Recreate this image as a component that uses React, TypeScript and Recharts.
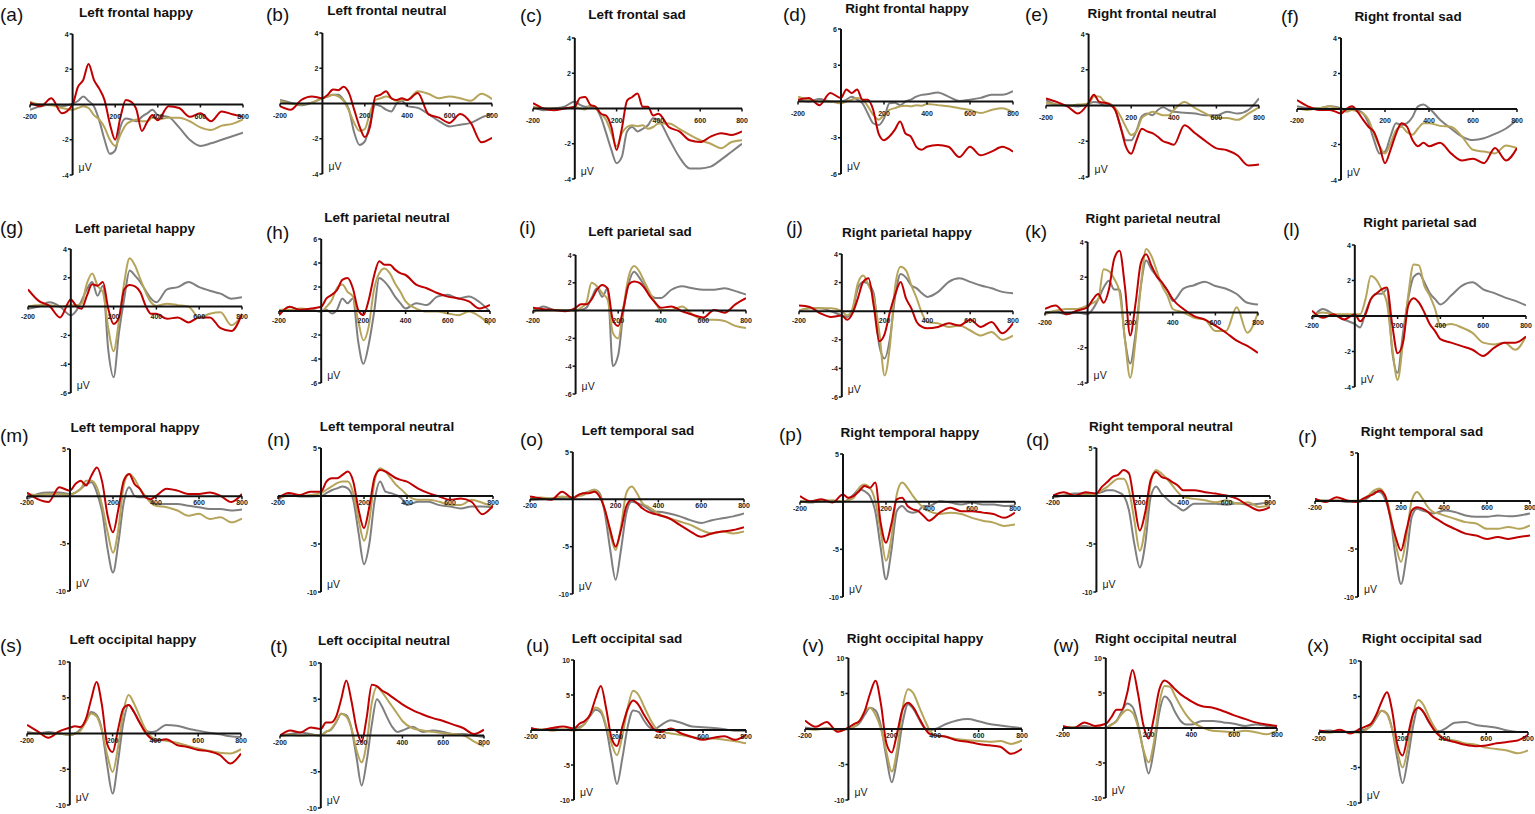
import React from 'react';
import { LineChart, Line, XAxis, YAxis, ReferenceLine, ReferenceDot } from 'recharts';

// time points (ms)
const TIMES = [-200,-150,-100,-50,0,25,50,75,100,125,150,175,200,225,250,275,300,325,350,375,400,450,500,550,600,650,700,750,800];
const X_TICKS = [-200, 200, 400, 600, 800];

// ---------- frontal ----------
const aRed = [0.1,-0.1,0.35,-0.5,0,1.0,1.4,2.3,1.4,0.9,0.25,-1.1,-2.0,-0.7,0.25,0.15,-0.3,-1.5,-1.0,-0.6,-0.9,-0.1,-0.2,-0.7,-0.5,-0.95,-0.4,-0.55,-0.7];
const aGray = [-0.3,-0.1,0,-0.1,0.05,0.2,0.45,0.2,-0.1,-0.9,-2.0,-2.8,-2.6,-1.25,-0.8,-0.85,-0.95,-0.7,-0.5,-0.3,-0.6,-0.7,-1.3,-2.0,-2.35,-2.2,-2.0,-1.8,-1.6];
const aOlive = [0.15,0,-0.05,-0.2,-0.3,-0.2,-0.1,-0.2,-0.6,-0.85,-1.3,-2.0,-2.35,-1.7,-1.15,-0.95,-0.85,-0.95,-0.95,-0.75,-0.85,-0.75,-0.75,-0.95,-1.3,-1.45,-1.2,-1.1,-0.85];

const bRed = [-0.15,-0.35,0.2,0.4,0.3,0.5,0.8,0.75,0.95,0.6,-0.35,-1.3,-1.9,-1.3,0.4,0.5,0.7,0.3,0.2,0.3,0.2,0.6,-0.6,-0.8,-1.1,-0.6,-1.1,-2.2,-1.95];
const bGray = [0.2,0.05,-0.1,0.05,0.3,0.4,0.5,0.5,0.2,-0.35,-1.65,-2.35,-2.15,-1.1,-0.05,-0.15,-0.35,-0.45,0,0.15,-0.15,-0.25,-0.6,-1.0,-1.3,-1.2,-1.1,-0.8,-0.6];
const bOlive = [0.15,0,-0.05,0.05,0.3,0.4,0.5,0.4,0.15,-0.4,-1.1,-1.55,-1.45,-0.5,0.2,0.3,0.4,0.3,0.15,0.2,0.2,0.7,0.55,0.3,0.4,0.3,0.15,0.55,0.25];

const cRed = [0.3,0,-0.1,0,0.1,0.6,0.65,0.2,0.1,-0.3,-0.4,-1.05,-2.35,-1.15,0.45,0.65,0.85,0.1,0.1,-0.4,-0.3,-1.05,-1.3,-1.8,-1.9,-1.6,-1.4,-1.5,-1.3];
const cGray = [0.1,-0.1,0,0.1,0.4,0.2,0.1,0.1,0,-0.5,-1.4,-2.35,-3.1,-2.75,-1.3,-1.05,-1.3,-1.15,-0.95,-0.55,-0.65,-1.7,-2.75,-3.4,-3.4,-3.3,-2.9,-2.45,-2.0];
const cOlive = [0.1,0,0,0,0.1,0,-0.05,0.2,0,-0.3,-0.65,-1.4,-2.15,-1.4,-1.05,-0.95,-1.0,-0.95,-1.15,-1.05,-0.85,-0.85,-1.15,-1.5,-1.8,-2.0,-2.25,-1.9,-1.8];

const dRed = [0.15,0.3,-0.3,0.7,0.3,1.0,0.7,1.0,0.15,0.15,-0.7,-2.65,-3.2,-2.9,-2.35,-1.65,-2.65,-2.9,-3.75,-4.0,-3.75,-3.6,-3.75,-4.6,-3.75,-4.45,-4.15,-3.75,-4.15];
const dGray = [0.15,0,0.2,0,0,0.15,0.4,0.15,-0.15,-1.0,-1.8,-1.95,-1.4,-0.15,-0.1,-0.3,0,0.15,0.4,0.55,0.6,0.75,0.4,0.05,0.15,0.3,0.55,0.55,0.85];
const dOlive = [0.4,0.15,0,0,-0.15,0,0.15,0.3,0.15,-0.4,-1.1,-1.5,-1.1,-0.7,-0.55,-0.4,-0.35,-0.4,-0.3,-0.35,-0.2,-0.3,-0.4,-0.55,-0.7,-0.95,-0.7,-0.55,-0.9];

const eRed = [0.4,0.2,-0.05,-0.45,0.15,0.6,0.2,0.15,0.05,-0.25,-1.2,-2.3,-2.7,-1.95,-1.3,-1.45,-1.55,-1.75,-2.0,-2.1,-2.2,-1.1,-1.55,-2.0,-2.4,-2.5,-2.8,-3.35,-3.3];
const eGray = [0.3,0.05,0,-0.05,0.1,0.2,0.15,0,0,-0.25,-1.2,-1.95,-1.95,-1.4,-0.6,-0.45,-0.55,-0.25,-0.1,-0.25,-0.35,-0.4,-0.45,-0.55,-0.55,-0.35,-0.45,-0.25,0.4];
const eOlive = [0.15,0.05,0,0.05,0.1,0.5,0.5,0.2,0.1,-0.15,-0.6,-1.2,-1.65,-1.45,-0.7,-0.5,-0.35,-0.45,-0.55,-0.55,-0.25,0.2,-0.15,-0.45,-0.7,-0.7,-0.8,-0.45,-0.1];

const fRed = [0.5,0.15,-0.05,-0.05,-0.25,0,0.15,-0.15,-0.6,-1.0,-1.3,-2.1,-3.05,-2.3,-1.4,-0.8,-1.0,-1.75,-2.1,-1.9,-2.1,-1.9,-2.5,-2.9,-2.8,-3.05,-2.2,-2.9,-2.2];
const fGray = [0.15,0.05,0.05,0.15,0.05,-0.05,0.05,-0.05,-0.25,-0.8,-1.75,-2.5,-2.4,-1.55,-0.8,-0.9,-0.8,-0.45,0.15,0.25,0.05,-0.6,-1.1,-1.55,-1.75,-1.65,-1.4,-1.1,-0.6];
const fOlive = [0.05,-0.05,0.05,0.15,-0.05,-0.15,-0.05,-0.15,-0.25,-0.6,-1.4,-2.1,-2.5,-1.95,-1.2,-1.0,-1.3,-1.45,-1.1,-0.8,-0.8,-0.95,-1.0,-1.55,-2.3,-2.4,-2.5,-2.05,-2.2];

// ---------- parietal ----------
const gRed = [1.2,0.4,0.05,-0.75,0.5,0.05,-0.15,0.75,1.55,1.45,1.7,-0.15,-1.2,-0.75,1.2,1.5,1.4,1.0,0.05,-0.5,-0.5,-0.85,-0.75,-1.1,-0.75,-0.75,-1.5,-1.7,-0.5];
const gGray = [-0.15,0,0.3,0,-0.6,-0.3,0.4,1.2,1.7,0.75,1.45,-3.0,-4.9,-1.8,0.6,2.5,2.15,1.7,1.1,0.55,0.3,1.2,1.35,1.7,1.35,1.1,0.9,0.55,0.65];
const gOlive = [0,0.1,0.1,0,0.1,0.1,0.2,1.6,2.3,1.45,1.0,-1.5,-3.1,-1.0,1.7,3.35,2.85,1.9,1.0,0.3,0.05,0.2,0.1,0,-0.75,-0.5,-0.4,-1.3,-0.6];

const hRed = [-0.35,0.35,0.1,0.2,0.35,1.05,1.35,1.75,2.6,2.75,1.9,0.1,-0.35,0.9,2.9,4.15,3.85,3.85,3.45,3.15,3.0,2.2,1.9,1.5,1.2,1.05,0.8,0.2,0.5];
const hGray = [-0.35,0.35,0.1,0.1,-0.05,0.1,-0.2,0.1,1.05,0.65,1.05,-2.5,-4.4,-2.8,-0.2,2.75,2.45,1.9,1.2,0.65,0.2,0.65,0.5,1.2,1.35,1.05,1.2,0.75,-0.05];
const hOlive = [0.1,0.1,0.2,0.1,-0.05,0.35,0.9,1.9,2.2,1.6,1.2,-0.8,-2.45,-1.3,1.75,3.15,3.55,3.15,2.3,1.6,0.8,0.2,-0.05,-0.05,-0.2,-0.35,-0.05,-0.45,-1.15];

const iRed = [0.2,0.1,0.05,-0.05,0.2,0.45,0.45,0.8,1.5,1.85,1.6,-0.7,-1.1,0.2,1.9,2.1,2.0,1.6,1.0,0.55,0.2,0.3,-0.05,-0.3,-0.5,0.05,-0.15,0.45,0.9];
const iGray = [-0.15,0.3,0.05,0.05,0,0.05,0.2,0.9,1.6,1.0,1.6,-4.0,-3.2,0,2.0,2.8,2.35,1.75,1.15,0.9,0.9,1.5,1.75,1.6,1.5,1.5,1.6,1.4,1.15];
const iOlive = [0,0,0,0,0,0.2,0.55,2.0,1.75,1.25,0.8,-1.6,-2.0,0.3,2.5,3.2,2.8,2.0,1.25,0.55,0.05,0.05,0.3,-0.3,-0.65,-0.65,-0.75,-1.1,-1.25];

const jRed = [0.4,0.3,-0.15,-0.4,-0.3,-0.6,-0.15,0.9,2.05,2.3,0.3,-2.1,-1.6,-0.05,1.2,2.05,0.9,0.2,-0.75,-1.1,-1.2,-1.1,-0.85,-1.0,-0.6,-1.1,-0.75,-1.55,-0.85];
const jGray = [0,0.2,0.2,0,-0.3,-0.4,0.05,1.6,2.05,1.9,1.2,-2.4,-3.3,-1.9,1.1,2.6,2.35,1.8,1.6,1.25,1.0,1.35,2.05,2.3,2.05,1.8,1.6,1.35,1.25];
const jOlive = [0.05,0.2,0.2,0.2,0,-0.3,0.2,1.95,2.5,1.8,0.9,-1.45,-4.5,-2.4,1.8,3.1,2.85,1.8,0.9,-0.15,-0.75,-0.85,-1.1,-1.0,-1.35,-1.7,-1.45,-2.0,-1.7];

const kRed = [0.2,0.4,-0.1,0.1,0.3,0.75,1.05,0.55,1.3,3.05,3.5,1.5,-1.3,0.5,2.8,3.3,2.65,2.05,1.7,1.25,0.75,0.2,-0.2,-0.4,-0.75,-1.15,-1.6,-1.9,-2.3];
const kGray = [0,0.05,-0.1,0,-0.1,0.2,0.75,1.4,1.8,1.3,1.3,-1.5,-2.9,-1.2,1.5,2.95,2.45,2.05,1.6,1.25,0.65,1.35,1.55,1.75,1.5,1.35,1.05,0.55,0.45];
const kOlive = [-0.1,0.1,0.2,0.2,0.4,0.55,0.75,2.45,2.35,1.9,1.15,-1.5,-3.7,-1.6,1.5,3.6,3.2,2.35,1.5,0.95,0.2,0,-0.3,-0.4,-1.05,-1.05,0.3,-1.15,0];

const lRed = [0.3,-0.1,0.1,-0.2,0.1,-0.3,0.1,0.95,1.25,1.5,1.6,-0.5,-2.1,-1.5,0.6,1.0,0.75,0.2,-0.45,-0.85,-1.3,-1.5,-1.7,-1.9,-2.25,-1.8,-1.5,-1.5,-1.15];
const lGray = [-0.2,0.4,0.1,-0.2,-0.45,-0.65,0.2,0.95,1.25,1.25,1.5,-2.0,-3.2,-1.0,1.0,2.2,2.4,1.9,1.3,0.95,0.65,1.15,1.7,1.9,1.5,1.3,1.05,0.85,0.6];
const lOlive = [0,0.2,0.1,0.1,0.1,0.1,0.95,2.25,2.05,1.5,0.75,-1.8,-3.6,-1.5,1.2,2.9,2.85,1.7,1.15,0.4,-0.55,-0.45,-0.65,-0.95,-1.5,-1.6,-1.5,-1.9,-1.15];

// ---------- temporal ----------
const mRed = [0.4,-0.3,-0.6,0.95,0.6,1.3,1.65,1.15,2.2,3.05,1.5,-2.05,-3.8,-1.35,1.65,2.35,1.3,0.8,-0.1,-0.3,0.05,0.8,0.6,0.25,0.25,0.4,0.05,-0.6,0.25];
const mGray = [-0.3,0.25,0.4,0.4,0.25,0.4,0.8,1.3,1.5,0.4,-1.7,-5.6,-8.05,-4.9,-0.65,0.95,0.05,-0.1,-0.1,-0.45,-0.8,-0.8,-0.8,-1.0,-1.15,-1.35,-1.35,-1.5,-1.4];
const mOlive = [0.25,0.15,0.25,0.25,0.15,0.4,0.8,1.65,1.65,0.95,-1.0,-3.8,-5.95,-3.45,1.15,2.35,1.85,0.8,0.05,-0.65,-1.0,-1.15,-1.5,-2.05,-1.85,-2.4,-2.2,-2.75,-2.35];

const nRed = [-0.25,0.3,0.1,0.45,0.45,1.5,1.85,1.85,2.2,2.55,1.5,-1.45,-3.35,-1.1,2.0,2.7,2.55,2.2,1.85,1.65,1.5,0.8,0.3,-0.05,-0.4,-0.25,-0.6,-1.9,-1.0];
const nGray = [-0.4,0.1,-0.05,-0.05,0,0.3,0.6,0.8,1.0,0.8,-0.4,-3.9,-7.1,-4.95,-0.4,1.5,0.45,0.3,0.1,-0.25,-0.95,-0.6,-0.6,-0.95,-1.1,-1.3,-1.1,-1.1,-1.2];
const nOlive = [-0.15,0,0,0.1,0.3,0.65,1.0,1.35,1.5,1.5,0.3,-2.5,-4.65,-2.5,1.65,2.9,2.55,1.85,1.15,0.65,0.1,-0.4,-0.4,-0.6,-0.95,-0.95,-0.4,-0.7,-1.1];

const oRed = [0.3,0.1,-0.05,0.8,0.1,0.45,0.65,0.65,0.8,0.3,-1.1,-3.25,-5.0,-3.25,-0.75,-0.05,-0.4,-0.95,-1.3,-1.5,-1.65,-2.0,-2.7,-3.4,-3.95,-3.6,-3.4,-3.25,-2.95];
const oGray = [-0.05,0,0.1,0.2,0.2,0.45,0.65,0.8,1.0,0.65,-1.5,-5.35,-8.5,-5.35,-1.5,-0.25,-0.4,-0.6,-0.95,-1.3,-1.3,-1.5,-1.8,-2.2,-2.5,-2.2,-2.0,-1.8,-1.5];
const oOlive = [0.1,0.2,0.1,0.3,0.2,0.35,0.45,0.8,1.0,0.45,-1.1,-3.6,-5.35,-2.9,0.65,1.35,0.65,-0.4,-0.75,-1.1,-1.5,-2.0,-2.35,-2.7,-3.25,-3.6,-3.4,-3.6,-3.4];

const pRed = [0.6,0.05,0.25,-0.1,0.75,0.4,0.6,1.1,1.65,1.45,2.0,-2.2,-4.3,-2.35,0.25,0.4,-0.45,-0.8,-1.0,-1.5,-2.0,-1.15,-0.65,-1.0,-1.0,-1.15,-1.3,-1.7,-1.15];
const pGray = [0.05,-0.1,0.15,0.05,0,0.25,0.75,1.3,1.1,0.6,-1.0,-4.8,-8.15,-5.15,-1.0,-0.45,-1.0,-1.15,-1.0,-0.45,-0.45,0.05,-0.1,-0.3,-0.1,-0.3,-0.3,-0.45,-0.4];
const pOlive = [0.05,0,0.05,0.15,0,0.15,0.4,1.45,1.8,1.45,0.05,-3.1,-6.2,-3.8,0.75,2.0,1.45,0.6,-0.1,-0.65,-1.0,-1.3,-1.15,-1.3,-1.7,-2.0,-2.2,-2.55,-2.4];

const qRed = [0.05,0.4,0.05,0.4,0.25,0.95,1.45,2.0,2.2,2.7,2.35,-0.8,-3.6,-1.7,1.65,2.5,2.0,1.8,1.45,1.1,0.6,0.6,0.4,0.25,0.05,-0.3,-1.0,-1.5,-1.15];
const qGray = [-0.15,0.05,0.25,0.25,0.25,0.4,0.6,0.6,0.4,0.05,-1.5,-5.0,-7.45,-5.0,-0.1,1.0,0.25,-0.3,-0.8,-1.15,-1.5,-0.8,-0.8,-0.8,-0.9,-0.75,-0.9,-0.8,-0.65];
const qOlive = [-0.05,0.05,0.05,0.15,0.25,0.6,0.95,1.45,1.8,1.8,0.6,-2.55,-5.7,-3.25,1.3,2.7,2.35,1.8,1.1,0.4,-0.1,-0.3,-0.45,-0.65,-0.45,-0.8,-0.65,-1.15,-1.0];

const rRed = [0.25,-0.1,0.4,0.05,-0.1,0.25,0.5,0.75,1.1,0.6,-1.65,-3.75,-5.15,-3.05,-1.0,-0.65,-0.8,-1.15,-1.65,-2.0,-2.35,-2.9,-3.4,-3.6,-3.95,-3.75,-3.95,-3.75,-3.6];
const rGray = [0.05,0.05,0.05,-0.1,-0.1,0.05,0.4,0.95,0.95,0.25,-1.65,-5.85,-8.65,-5.85,-1.65,-0.8,-1.0,-1.15,-1.3,-1.15,-1.0,-1.15,-1.5,-1.65,-1.65,-1.5,-1.6,-1.5,-1.3];
const rOlive = [0.15,0,0.05,0,0.05,0.25,0.6,1.1,1.3,0.6,-1.3,-4.45,-6.35,-3.75,0.05,0.95,0.25,-0.65,-1.15,-1.3,-1.5,-1.85,-2.2,-2.35,-2.9,-2.9,-2.7,-2.9,-2.55];

// ---------- occipital ----------
const sRed = [1.2,0.3,-0.6,0.3,0.8,1.0,0.9,2.0,4.8,7.2,4.0,-1.5,-2.6,0.5,3.5,4.0,3.0,1.6,0.3,-0.6,-1.0,-0.8,-1.6,-1.9,-2.3,-2.5,-3.0,-4.2,-2.8];
const sGray = [0.2,0,0.2,0,-0.2,0,0.6,1.8,3.0,2.6,0.5,-4.5,-8.4,-4.0,1.5,4.0,3.0,1.6,0.6,0.2,0.3,1.2,1.1,0.7,0.4,0.1,-0.1,-0.4,-0.5];
const sOlive = [0,0,-0.1,0,-0.2,0,0.4,1.6,2.8,2.4,0.4,-3.0,-5.4,-2.0,3.0,5.4,4.2,2.5,0.8,-0.3,-0.8,-1.0,-1.3,-1.7,-2.1,-2.4,-2.7,-2.8,-2.2];

const tRed = [0,0.7,0.4,1.1,0.9,1.8,1.8,2.6,5.0,7.6,4.8,1.0,-0.9,2.5,7.0,6.8,6.2,5.8,5.3,4.8,4.3,3.5,2.9,2.4,2.0,1.5,1.0,0.2,0.8];
const tGray = [0,0.2,0.4,0.2,0,0.5,0.8,1.8,3.0,2.8,1.0,-3.0,-6.9,-3.5,1.5,5.0,4.0,2.5,1.2,0.5,0.7,1.2,0.5,0.7,0.5,0.2,0.2,0,-0.2];
const tOlive = [-0.1,0.1,0,0.1,0,0.5,0.9,1.9,3.0,2.6,1.0,-2.0,-3.7,-1.0,4.5,6.7,6.0,5.0,4.0,3.0,2.0,1.0,0.7,0.5,0.3,0.2,0,-0.8,-1.5];

const uRed = [0.3,0,0.3,0.5,0.2,0.9,1.3,2.2,4.5,6.3,3.0,-1.2,-2.3,0.5,3.0,4.2,3.6,2.2,1.0,0,-0.3,0.2,-0.5,-1.0,-1.4,-1.1,-0.9,-1.4,-0.7];
const uGray = [0.2,0,0.2,0,0.2,0.4,0.9,2.0,2.9,2.5,0.2,-4.0,-7.7,-4.0,0.5,2.8,2.6,1.4,0.4,0.1,0.6,1.4,1.0,0.5,0.4,0.3,0.1,-0.1,-0.1];
const uOlive = [0,0.1,-0.1,0.1,-0.1,0.2,0.9,2.2,3.2,2.8,0.6,-2.0,-3.6,-0.8,3.2,5.6,5.0,3.4,1.8,0.5,-0.2,-0.5,-0.7,-1.0,-1.2,-1.2,-1.4,-1.6,-1.9];

const vRed = [1.2,0.3,1.0,-0.4,0.2,0.7,1.1,2.5,5.0,6.8,3.5,-2.0,-3.3,-0.5,2.8,3.7,3.0,1.6,0.2,-0.7,-0.9,-1.1,-1.6,-1.8,-2.1,-2.3,-2.5,-3.5,-2.8];
const vGray = [0.2,0,0.1,-0.1,0,0.3,0.8,2.0,3.0,2.6,0.4,-4.0,-7.5,-4.0,0.9,3.5,2.8,1.4,0.2,-0.2,0,0.7,1.2,1.4,1.1,0.7,0.5,0.3,0.1];
const vOlive = [0,-0.1,0.1,-0.1,0,0.3,1.0,2.5,3.0,2.0,0,-3.2,-6.0,-2.8,3.0,5.6,5.0,3.2,1.4,-0.2,-0.9,-1.1,-1.4,-1.6,-1.7,-1.8,-1.7,-2.1,-1.6];

const wRed = [0.3,0,0.8,0.3,0.6,1.5,2.6,2.6,5.0,8.3,5.0,0.5,-1.5,1.5,5.5,6.8,6.3,5.5,4.8,4.3,3.8,3.1,2.9,2.4,1.8,1.3,0.8,0.5,0.3];
const wGray = [0,0.1,0.3,0,0,0.5,1.0,2.4,3.5,3.0,0.6,-3.2,-6.5,-3.0,2.2,4.5,3.8,2.2,1.0,0.5,0.5,1.0,1.0,0.8,0.6,0.3,0.5,0.3,0.1];
const wOlive = [0,0.1,0,0.1,0,0.4,1.0,2.0,2.6,2.2,0.2,-3.0,-4.9,-2.0,3.5,6.0,5.9,4.5,3.1,1.9,1.0,0.1,-0.4,-0.5,-0.6,-0.4,-0.6,-0.9,-0.4];

const xRed = [0.2,0,0.3,-0.2,0.5,0.8,1.2,2.5,4.3,5.6,3.0,-1.8,-3.3,-0.5,2.5,3.4,2.8,1.5,0.3,-0.5,-1.0,-1.4,-1.8,-2.0,-1.9,-1.6,-1.4,-1.2,-0.4];
const xGray = [0,0.2,0,0,0.2,0.4,0.9,2.0,3.0,2.6,0.4,-3.8,-7.2,-3.8,0.8,3.5,2.8,1.4,0.4,0.1,0.4,1.3,1.4,1.0,0.8,0.6,0.2,0,0];
const xOlive = [0,-0.1,0.1,0,-0.1,0.3,1.0,2.2,3.0,2.5,0.4,-2.8,-5.0,-2.2,2.5,4.5,3.8,2.2,0.8,-0.3,-1.0,-1.2,-1.6,-1.8,-2.2,-2.4,-2.6,-3.0,-2.6];

const TICKS_F = [-4, -2, 2, 4];
const TICKS_F6 = [-6, -3, 3, 6];
const TICKS_P = [-6, -4, -2, 2, 4];
const TICKS_P6 = [-6, -4, -2, 2, 4, 6];
const TICKS_T = [-10, -5, 5];
const TICKS_O = [-10, -5, 5, 10];

const RED = '#c00000';
const GRAY = '#7f7f7f';
const OLIVE = '#b5a45a';

type Panel = {
  id: string; title: string; red: number[]; gray: number[]; olive: number[];
  x0: number; x1: number; yTop: number; yBot: number; yMin: number; yMax: number; yTicks: number[];
  tx: number; ty: number; lx: number; ly: number; xdy: number;
};

const PANELS: Panel[] = [
  { id: 'a', title: 'Left frontal happy', red: aRed, gray: aGray, olive: aOlive, x0: 30, x1: 243, yTop: 34, yBot: 175, yMin: -4, yMax: 4, yTicks: TICKS_F, tx: 136, ty: 13, lx: 0, ly: 15, xdy: 14 },
  { id: 'b', title: 'Left frontal neutral', red: bRed, gray: bGray, olive: bOlive, x0: 280, x1: 492, yTop: 33, yBot: 174, yMin: -4, yMax: 4, yTicks: TICKS_F, tx: 387, ty: 11, lx: 266, ly: 15, xdy: 14 },
  { id: 'c', title: 'Left frontal sad', red: cRed, gray: cGray, olive: cOlive, x0: 533, x1: 742, yTop: 38, yBot: 179, yMin: -4, yMax: 4, yTicks: TICKS_F, tx: 637, ty: 15, lx: 520, ly: 16, xdy: 14 },
  { id: 'd', title: 'Right frontal happy', red: dRed, gray: dGray, olive: dOlive, x0: 798, x1: 1013, yTop: 29, yBot: 174, yMin: -6, yMax: 6, yTicks: TICKS_F6, tx: 907, ty: 9, lx: 783, ly: 15, xdy: 14 },
  { id: 'e', title: 'Right frontal neutral', red: eRed, gray: eGray, olive: eOlive, x0: 1046, x1: 1259, yTop: 34, yBot: 177, yMin: -4, yMax: 4, yTicks: TICKS_F, tx: 1152, ty: 14, lx: 1025, ly: 15, xdy: 14 },
  { id: 'f', title: 'Right frontal sad', red: fRed, gray: fGray, olive: fOlive, x0: 1297, x1: 1517, yTop: 38, yBot: 180, yMin: -4, yMax: 4, yTicks: TICKS_F, tx: 1408, ty: 17, lx: 1281, ly: 17, xdy: 14 },

  { id: 'g', title: 'Left parietal happy', red: gRed, gray: gGray, olive: gOlive, x0: 28, x1: 242, yTop: 249, yBot: 393, yMin: -6, yMax: 4, yTicks: TICKS_P, tx: 135, ty: 229, lx: 0, ly: 228, xdy: 12 },
  { id: 'h', title: 'Left parietal neutral', red: hRed, gray: hGray, olive: hOlive, x0: 279, x1: 490, yTop: 239, yBot: 383, yMin: -6, yMax: 6, yTicks: TICKS_P6, tx: 387, ty: 218, lx: 266, ly: 233, xdy: 12 },
  { id: 'i', title: 'Left parietal sad', red: iRed, gray: iGray, olive: iOlive, x0: 533, x1: 746, yTop: 255, yBot: 394, yMin: -6, yMax: 4, yTicks: TICKS_P, tx: 640, ty: 232, lx: 519, ly: 228, xdy: 12 },
  { id: 'j', title: 'Right parietal happy', red: jRed, gray: jGray, olive: jOlive, x0: 799, x1: 1013, yTop: 254, yBot: 397, yMin: -6, yMax: 4, yTicks: TICKS_P, tx: 907, ty: 233, lx: 786, ly: 228, xdy: 12 },
  { id: 'k', title: 'Right parietal neutral', red: kRed, gray: kGray, olive: kOlive, x0: 1045, x1: 1258, yTop: 242, yBot: 383, yMin: -4, yMax: 4, yTicks: TICKS_F, tx: 1153, ty: 219, lx: 1025, ly: 232, xdy: 12 },
  { id: 'l', title: 'Right parietal sad', red: lRed, gray: lGray, olive: lOlive, x0: 1312, x1: 1526, yTop: 245, yBot: 387, yMin: -4, yMax: 4, yTicks: TICKS_F, tx: 1420, ty: 223, lx: 1283, ly: 230, xdy: 12 },

  { id: 'm', title: 'Left temporal happy', red: mRed, gray: mGray, olive: mOlive, x0: 27, x1: 242, yTop: 449, yBot: 591, yMin: -10, yMax: 5, yTicks: TICKS_T, tx: 135, ty: 428, lx: 0, ly: 436, xdy: 9 },
  { id: 'n', title: 'Left temporal neutral', red: nRed, gray: nGray, olive: nOlive, x0: 278, x1: 493, yTop: 448, yBot: 592, yMin: -10, yMax: 5, yTicks: TICKS_T, tx: 387, ty: 427, lx: 267, ly: 440, xdy: 9 },
  { id: 'o', title: 'Left temporal sad', red: oRed, gray: oGray, olive: oOlive, x0: 530, x1: 744, yTop: 452, yBot: 594, yMin: -10, yMax: 5, yTicks: TICKS_T, tx: 638, ty: 431, lx: 520, ly: 440, xdy: 9 },
  { id: 'p', title: 'Right temporal happy', red: pRed, gray: pGray, olive: pOlive, x0: 800, x1: 1015, yTop: 454, yBot: 597, yMin: -10, yMax: 5, yTicks: TICKS_T, tx: 910, ty: 433, lx: 779, ly: 435, xdy: 9 },
  { id: 'q', title: 'Right temporal neutral', red: qRed, gray: qGray, olive: qOlive, x0: 1053, x1: 1270, yTop: 448, yBot: 592, yMin: -10, yMax: 5, yTicks: TICKS_T, tx: 1161, ty: 427, lx: 1026, ly: 440, xdy: 9 },
  { id: 'r', title: 'Right temporal sad', red: rRed, gray: rGray, olive: rOlive, x0: 1315, x1: 1530, yTop: 453, yBot: 597, yMin: -10, yMax: 5, yTicks: TICKS_T, tx: 1422, ty: 432, lx: 1298, ly: 437, xdy: 9 },

  { id: 's', title: 'Left occipital happy', red: sRed, gray: sGray, olive: sOlive, x0: 27, x1: 241, yTop: 662, yBot: 805, yMin: -10, yMax: 10, yTicks: TICKS_O, tx: 133, ty: 640, lx: 0, ly: 646, xdy: 9 },
  { id: 't', title: 'Left occipital neutral', red: tRed, gray: tGray, olive: tOlive, x0: 280, x1: 484, yTop: 663, yBot: 808, yMin: -10, yMax: 10, yTicks: TICKS_O, tx: 384, ty: 641, lx: 270, ly: 647, xdy: 9 },
  { id: 'u', title: 'Left occipital sad', red: uRed, gray: uGray, olive: uOlive, x0: 531, x1: 746, yTop: 660, yBot: 800, yMin: -10, yMax: 10, yTicks: TICKS_O, tx: 627, ty: 639, lx: 526, ly: 646, xdy: 9 },
  { id: 'v', title: 'Right occipital happy', red: vRed, gray: vGray, olive: vOlive, x0: 805, x1: 1022, yTop: 658, yBot: 800, yMin: -10, yMax: 10, yTicks: TICKS_O, tx: 915, ty: 639, lx: 802, ly: 646, xdy: 9 },
  { id: 'w', title: 'Right occipital neutral', red: wRed, gray: wGray, olive: wOlive, x0: 1063, x1: 1277, yTop: 658, yBot: 798, yMin: -10, yMax: 10, yTicks: TICKS_O, tx: 1166, ty: 639, lx: 1053, ly: 646, xdy: 9 },
  { id: 'x', title: 'Right occipital sad', red: xRed, gray: xGray, olive: xOlive, x0: 1319, x1: 1528, yTop: 661, yBot: 803, yMin: -10, yMax: 10, yTicks: TICKS_O, tx: 1422, ty: 639, lx: 1307, ly: 646, xdy: 9 },
];

const ML = 14, MR = 14, MT = 8, MB = 8;
const FONT = '"Liberation Sans", Arial, Helvetica, sans-serif';

function ErpPanel({ p }: { p: Panel }) {
  const data = TIMES.map((t, i) => ({ t, red: p.red[i], gray: p.gray[i], olive: p.olive[i] }));
  const W = p.x1 - p.x0 + ML + MR;
  const H = p.yBot - p.yTop + MT + MB;
  return (
    <div style={{ position: 'absolute', left: p.x0 - ML, top: p.yTop - MT, width: W, height: H }}>
      <LineChart width={W} height={H} data={data} margin={{ top: MT, right: MR, bottom: MB, left: ML }}>
        <XAxis type="number" dataKey="t" domain={[-200, 800]} hide allowDataOverflow />
        <YAxis type="number" domain={[p.yMin, p.yMax]} hide allowDataOverflow />
        <Line type="monotone" dataKey="gray" stroke={GRAY} strokeWidth={2} dot={false} isAnimationActive={false} />
        <Line type="monotone" dataKey="olive" stroke={OLIVE} strokeWidth={2} dot={false} isAnimationActive={false} />
        <Line type="monotone" dataKey="red" stroke={RED} strokeWidth={2} dot={false} isAnimationActive={false} />
        <ReferenceLine y={0} stroke="#111" strokeWidth={2} ifOverflow="visible" />
        <ReferenceLine x={0} stroke="#111" strokeWidth={2} ifOverflow="visible" />
        {X_TICKS.map((t) => (
          <ReferenceDot key={'xt' + t} x={t} y={0} r={0} ifOverflow="visible"
            shape={(props: any) => (
              <g>
                <line x1={props.cx} y1={props.cy} x2={props.cx} y2={props.cy + 3} stroke="#111" strokeWidth={1.5} />
                <text x={props.cx} y={props.cy + p.xdy} textAnchor="middle" fontSize={7} fontWeight="bold" fill="#222" fontFamily={FONT}>{t}</text>
              </g>
            )} />
        ))}
        {p.yTicks.map((v) => (
          <ReferenceDot key={'yt' + v} x={0} y={v} r={0} ifOverflow="visible"
            shape={(props: any) => (
              <g>
                <line x1={props.cx - 3} y1={props.cy} x2={props.cx} y2={props.cy} stroke="#111" strokeWidth={1.5} />
                <text x={props.cx - 4} y={props.cy + 2.5} textAnchor="end" fontSize={7} fontWeight="bold" fill="#222" fontFamily={FONT}>{v}</text>
              </g>
            )} />
        ))}
        <ReferenceDot x={0} y={p.yMin} r={0} ifOverflow="visible"
          shape={(props: any) => (
            <text x={props.cx + 6} y={props.cy - 4} fontSize={10.5} fill="#222" fontFamily={FONT}>μV</text>
          )} />
      </LineChart>
    </div>
  );
}

export default function App() {
  return (
    <div style={{ position: 'absolute', left: 0, top: 0, width: 1535, height: 814, background: '#fff', overflow: 'hidden', fontFamily: FONT }}>
      {PANELS.map((p) => (
        <React.Fragment key={p.id}>
          <div style={{ position: 'absolute', left: p.lx, top: p.ly - 12, fontSize: 19, lineHeight: '24px', color: '#111', whiteSpace: 'nowrap' }}>({p.id})</div>
          <div style={{ position: 'absolute', left: p.tx - 150, width: 300, top: p.ty - 8, fontSize: 13.5, lineHeight: '16px', fontWeight: 'bold', textAlign: 'center', color: '#111', whiteSpace: 'nowrap' }}>{p.title}</div>
          <ErpPanel p={p} />
        </React.Fragment>
      ))}
    </div>
  );
}
